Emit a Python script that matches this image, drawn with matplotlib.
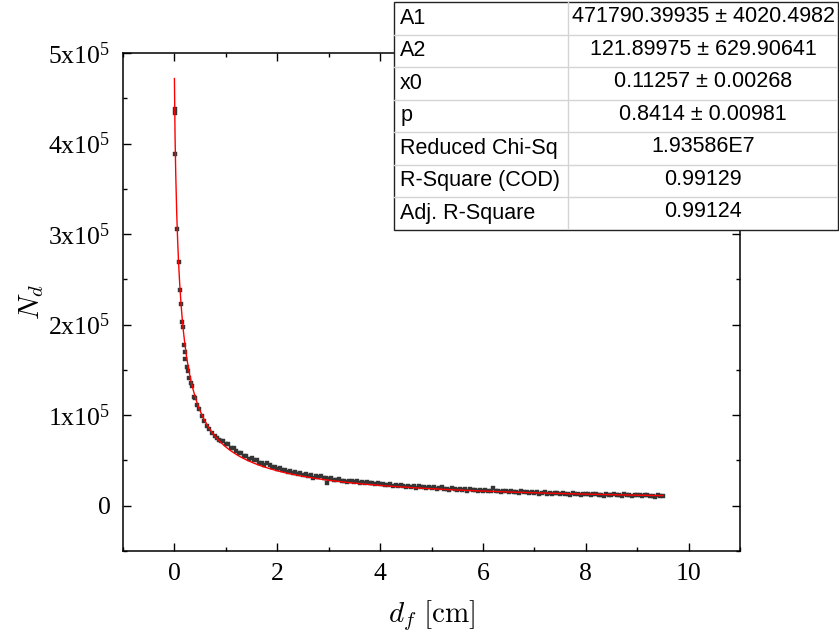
import numpy as np
import matplotlib.pyplot as plt
from matplotlib.ticker import MultipleLocator, FuncFormatter
from matplotlib.patches import Rectangle

plt.rcParams['font.family'] = 'Liberation Serif'
plt.rcParams['mathtext.fontset'] = 'cm'

data_gray = '#353535'
fit_red = '#ff0000'

# fit parameters (dose-response), as printed in the result table
A1 = 471790.39935
A2 = 121.89975
x0 = 0.11257
p = 0.8414

row_names = ['A1', 'A2', 'x0', 'p', 'Reduced Chi-Sq', 'R-Square (COD)', 'Adj. R-Square']
row_values = ['471790.39935 \u00b1 4020.4982', '121.89975 \u00b1 629.90641',
              '0.11257 \u00b1 0.00268', '0.8414 \u00b1 0.00981', '1.93586E7',
              '0.99129', '0.99124']

# measured points: d_f [cm] and N_d [thousands]
df_steep = [0.005, 0.012, 0.02, 0.055, 0.08, 0.11, 0.125, 0.155, 0.165, 0.185,
            0.20, 0.215, 0.25, 0.265, 0.29, 0.315, 0.335, 0.385, 0.405, 0.445,
            0.475, 0.53, 0.575, 0.625, 0.675, 0.73, 0.78, 0.835, 0.87, 0.90]
nd_steep = [438.5, 434.0, 389.0, 306.0, 269.0, 238.0, 223.0, 203.0, 197.0, 177.2,
            170.2, 162.5, 153.2, 148.7, 141.4, 135.9, 132.1, 120.4, 118.5, 110.7,
            106.3, 98.9, 93.4, 88.6, 84.2, 80.5, 77.5, 74.5, 72.8, 71.6]

df_mid = [0.95, 1.00, 1.05, 1.10, 1.15, 1.20, 1.25, 1.30, 1.35, 1.40, 1.45,
          1.50, 1.55, 1.60, 1.65, 1.70, 1.75, 1.80, 1.85, 1.90, 1.95, 2.00,
          2.05, 2.10, 2.15, 2.20, 2.25, 2.30, 2.35, 2.40, 2.45, 2.50, 2.55,
          2.60, 2.65, 2.70, 2.75, 2.80, 2.85, 2.90, 2.95, 2.97, 3.00]
nd_mid = [71.9, 68.1, 67.7, 64.3, 64.2, 60.8, 58.2, 58.4, 55.3, 55.0, 52.1,
          52.3, 50.0, 50.4, 47.6, 47.5, 45.4, 47.2, 45.1, 42.9, 43.0, 41.0,
          41.8, 39.4, 39.9, 36.8, 38.1, 36.6, 37.1, 35.3, 35.7, 34.1, 34.8,
          33.0, 33.6, 30.9, 32.3, 31.4, 33.2, 30.8, 30.8, 25.6, 29.7]

df_tail = [3.05, 3.10, 3.15, 3.20, 3.25, 3.30, 3.35, 3.40, 3.45, 3.50,
           3.55, 3.60, 3.65, 3.70, 3.75, 3.80, 3.85, 3.90, 3.95, 4.00,
           4.05, 4.10, 4.15, 4.20, 4.25, 4.30, 4.35, 4.40, 4.45, 4.50,
           4.55, 4.60, 4.65, 4.70, 4.75, 4.80, 4.85, 4.90, 4.95, 5.00,
           5.05, 5.10, 5.15, 5.20, 5.25, 5.30, 5.35, 5.40, 5.45, 5.50,
           5.55, 5.60, 5.65, 5.70, 5.75, 5.80, 5.85, 5.90, 5.95, 6.00,
           6.05, 6.10, 6.15, 6.20, 6.25, 6.30, 6.35, 6.40, 6.45, 6.50,
           6.55, 6.60, 6.65, 6.70, 6.75, 6.80, 6.85, 6.90, 6.95, 7.00,
           7.05, 7.10, 7.15, 7.20, 7.25, 7.30, 7.35, 7.40, 7.45, 7.50,
           7.55, 7.60, 7.65, 7.70, 7.75, 7.80, 7.85, 7.90, 7.95, 8.00,
           8.05, 8.10, 8.15, 8.20, 8.25, 8.30, 8.35, 8.40, 8.45, 8.50,
           8.55, 8.60, 8.65, 8.70, 8.75, 8.80, 8.85, 8.90, 8.95, 9.00,
           9.05, 9.10, 9.15, 9.20, 9.25, 9.30, 9.35, 9.40, 9.45, 9.50]
nd_tail = [30.1, 28.4, 28.9, 29.5, 27.6, 27.8, 26.4, 27.7, 26.9, 25.9,
           27.1, 25.6, 26.1, 24.6, 26.3, 24.7, 25.2, 23.7, 24.8, 23.8,
           24.3, 22.7, 23.4, 23.9, 22.3, 22.6, 21.4, 22.8, 22.1, 21.2,
           22.3, 21.0, 21.5, 20.1, 21.8, 20.4, 20.9, 19.5, 20.7, 19.6,
           20.3, 18.7, 19.5, 20.4, 18.5, 18.9, 17.8, 19.2, 18.6, 17.8,
           18.8, 17.5, 18.1, 16.8, 18.5, 17.2, 17.8, 16.4, 17.6, 16.7,
           17.5, 16.0, 16.8, 19.2, 15.9, 16.3, 15.2, 16.7, 16.1, 15.2,
           16.4, 15.1, 15.7, 14.4, 16.2, 14.9, 15.5, 14.2, 15.4, 14.4,
           15.0, 13.5, 14.4, 15.0, 13.5, 13.9, 12.8, 14.4, 13.8, 13.0,
           14.1, 12.9, 13.5, 12.2, 13.9, 12.7, 13.3, 12.0, 13.3, 12.4,
           13.2, 11.8, 12.6, 13.3, 11.8, 12.2, 11.2, 12.7, 12.2, 11.4,
           12.8, 11.5, 12.1, 10.9, 12.6, 11.4, 12.0, 10.8, 12.0, 11.3,
           12.1, 10.7, 11.5, 12.2, 10.7, 11.2, 10.1, 11.7, 11.1, 10.4]


def dose_resp(x):
    """Origin DoseResp fit curve."""
    return A2 + (A1 - A2) / (1 + (x / x0) ** p)


def sci_label(v, pos):
    if abs(v) < 1:
        return '0'
    return r'$\mathregular{%dx10^5}$' % round(v / 1e5)


W, H = 839, 638
fig = plt.figure(figsize=(W / 100, H / 100), dpi=100)
ax = fig.add_axes([123 / W, 1 - 551 / H, (740 - 123) / W, (551 - 53) / H])

df_all = np.array(df_steep + df_mid + df_tail)
nd_all = np.array(nd_steep + nd_mid + nd_tail) * 1000

ax.plot(df_all, nd_all, 's', ms=3.0, color=data_gray, mec=data_gray, mew=0.3, zorder=2)
x_fit = np.linspace(0, df_all.max(), 1500)
ax.plot(x_fit, dose_resp(x_fit), color=fit_red, lw=1.0, zorder=3)

ax.set_xlim(-1, 11)
ax.set_ylim(-50000, 500000)
ax.xaxis.set_major_locator(MultipleLocator(2))
ax.xaxis.set_minor_locator(MultipleLocator(1))
ax.yaxis.set_major_locator(MultipleLocator(100000))
ax.yaxis.set_minor_locator(MultipleLocator(50000))
ax.yaxis.set_major_formatter(FuncFormatter(sci_label))
ax.tick_params(which='both', direction='in', top=True, right=True, width=1.0, labelsize=18.5)
ax.tick_params(which='major', length=6)
ax.tick_params(which='minor', length=3)
ax.tick_params(axis='x', pad=9)
ax.tick_params(axis='y', pad=9)
for s in ax.spines.values():
    s.set_linewidth(1.1)

ax.set_xlabel(r'$d_f\ [\mathrm{cm}]$', fontsize=21, labelpad=9)
ax.set_ylabel(r'$N_d$', fontsize=21, labelpad=2)

# fit result table in the top right corner
tab = fig.add_axes([393.5 / W, 1 - 229.5 / H, (838 - 393.5) / W, 227.5 / H], zorder=5)
tab.set_xlim(0, 1)
tab.set_ylim(0, len(row_names))
tab.axis('off')
split = (568 - 393.5) / (838 - 393.5)
tab.add_patch(Rectangle((0, 0), 1, len(row_names), facecolor='white',
                        edgecolor='#222222', lw=1.0, clip_on=False))
for i in range(1, len(row_names)):
    tab.plot([0, 1], [i, i], color='#d4d4d4', lw=1.0)
tab.plot([split, split], [0, len(row_names)], color='#d4d4d4', lw=1.0)
for i, (name, val) in enumerate(zip(row_names, row_values)):
    yc = len(row_names) - i - 0.5
    tab.text(0.015, yc, name, ha='left', va='center', fontsize=15.5,
             family='Liberation Sans')
    tab.text((split + 1) / 2, yc + 0.05, val, ha='center', va='center', fontsize=15.5,
             family='Liberation Sans')

fig.savefig('out.png', dpi=100)
